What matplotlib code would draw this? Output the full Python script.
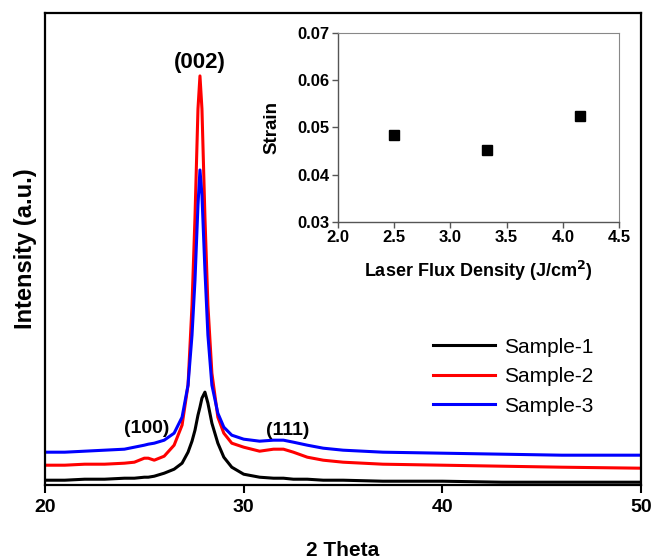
import matplotlib.pyplot as plt

plt.rcParams["font.family"] = ["Liberation Sans", "DejaVu Sans"]

# XRD scans (2 theta in degrees, intensity in arbitrary units)
two_theta = [20, 21, 22, 23, 24, 24.5, 25.0, 25.2, 25.5, 26.0, 26.5, 26.9,
             27.2, 27.4, 27.55, 27.7, 27.8, 27.9, 28.05, 28.2, 28.4, 28.7,
             29.0, 29.4, 30.0, 30.8, 31.5, 32.0, 32.5, 33.2, 34.0, 35, 37,
             40, 43, 46, 50]

sample_1 = [5, 5, 6, 6, 7, 7, 8, 8, 9, 12, 16, 22,
            33, 44, 55, 70, 78, 87, 93, 82, 62, 42,
            28, 18, 11, 8, 7, 7, 6, 6, 5, 5, 4,
            4, 3, 3, 3]

sample_2 = [20, 20, 21, 21, 22, 23, 27, 27, 25, 29, 40, 60,
            100, 180, 268, 376, 409, 376, 268, 180, 112, 68,
            52, 42, 38, 34, 36, 36, 33, 28, 25, 23, 21,
            20, 19, 18, 17]

sample_3 = [33, 33, 34, 35, 36, 38, 40, 41, 42, 45, 52, 68,
            100, 150, 205, 280, 315, 290, 215, 150, 100, 72,
            58, 50, 46, 44, 45, 45, 43, 40, 37, 35, 33,
            32, 31, 30, 30]

# strain vs laser flux density (inset)
flux = [2.5, 3.33, 4.15]
strain = [0.0483, 0.0452, 0.0524]

fig = plt.figure(figsize=(6.51, 5.59), dpi=100)
ax = fig.add_axes([0.069, 0.132, 0.916, 0.845])

ax.plot(two_theta, sample_1, color="black", lw=2.2, label="Sample-1")
ax.plot(two_theta, sample_2, color="red", lw=2.2, label="Sample-2")
ax.plot(two_theta, sample_3, color="blue", lw=2.2, label="Sample-3")

ax.set_xlim(20, 50)
ax.set_ylim(0, 472)
ax.set_xticks([20, 30, 40, 50])
ax.set_yticks([])
ax.tick_params(axis="x", direction="out", length=6, width=1.5, labelsize=14, pad=4)
for lbl in ax.get_xticklabels():
    lbl.set_fontweight("bold")
for sp in ax.spines.values():
    sp.set_linewidth(1.6)

ax.set_xlabel("2 Theta", fontsize=15, fontweight="bold", labelpad=18)
ax.set_ylabel("Intensity (a.u.)", fontsize=17, fontweight="bold", labelpad=6)

# peak labels
ax.text(27.8, 412, "(002)", fontsize=16, fontweight="bold", ha="center", va="bottom")
ax.text(25.1, 48, "(100)", fontsize=14, fontweight="bold", ha="center", va="bottom")
ax.text(32.2, 46, "(111)", fontsize=14, fontweight="bold", ha="center", va="bottom")

ax.legend(loc="upper left", bbox_to_anchor=(0.62, 0.352), frameon=False,
          fontsize=15, handlelength=2.95, handletextpad=0.45, labelspacing=0.5)

# inset: strain
ins = fig.add_axes([0.519, 0.603, 0.432, 0.338])
ins.plot(flux, strain, "s", color="black", markersize=7)
ins.set_xlim(2.0, 4.5)
ins.set_ylim(0.03, 0.07)
ins.set_xticks([2.0, 2.5, 3.0, 3.5, 4.0, 4.5])
ins.set_yticks([0.03, 0.04, 0.05, 0.06, 0.07])
ins.set_xticklabels(["2.0", "2.5", "3.0", "3.5", "4.0", "4.5"])
ins.set_yticklabels(["0.03", "0.04", "0.05", "0.06", "0.07"])
ins.tick_params(direction="out", length=4, width=1, color="#555555", labelsize=12, pad=2)
for lbl in ins.get_xticklabels() + ins.get_yticklabels():
    lbl.set_fontweight("bold")
for side in ["left", "bottom"]:
    ins.spines[side].set_color("#555555")
    ins.spines[side].set_linewidth(1.0)
for side in ["top", "right"]:
    ins.spines[side].set_color("#888888")
    ins.spines[side].set_linewidth(0.8)
ins.set_xlabel("Laser Flux Density (J/cm$\\mathbf{^2}$)", fontsize=13, fontweight="bold", labelpad=10)
ins.set_ylabel("Strain", fontsize=13.5, fontweight="bold", labelpad=12)

fig.savefig("out.png", dpi=100)
